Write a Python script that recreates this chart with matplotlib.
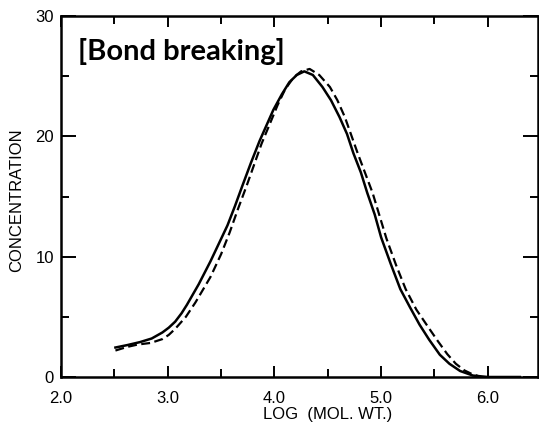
import numpy as np
import matplotlib
matplotlib.use("Agg")
import matplotlib.pyplot as plt
from matplotlib.ticker import MultipleLocator, FormatStrFormatter

# solid curve
log_mw_solid = [2.51, 2.62, 2.74, 2.85, 2.95, 3.01, 3.07, 3.13, 3.18, 3.29,
                3.40, 3.48, 3.56, 3.63, 3.70, 3.78, 3.86, 3.93, 3.99, 4.07,
                4.14, 4.21, 4.28, 4.36, 4.45, 4.53, 4.61, 4.68, 4.74, 4.81,
                4.87, 4.94, 5.00, 5.09, 5.18, 5.27, 5.36, 5.45, 5.55, 5.64,
                5.74, 5.86, 6.00, 6.30]
conc_solid = [2.45, 2.65, 2.9, 3.2, 3.7, 4.1, 4.6, 5.3, 6.0, 7.7,
              9.6, 11.1, 12.6, 14.2, 15.9, 17.8, 19.6, 21.0, 22.2, 23.5,
              24.5, 25.1, 25.4, 25.1, 24.1, 23.0, 21.6, 20.2, 18.6, 17.0,
              15.3, 13.5, 11.6, 9.4, 7.3, 5.8, 4.35, 3.1, 1.85, 1.1,
              0.5, 0.12, 0.0, 0.0]

# dashed curve
log_mw_dash = [2.51, 2.62, 2.72, 2.84, 2.95, 3.01, 3.07, 3.17, 3.26, 3.40,
               3.50, 3.58, 3.66, 3.74, 3.80, 3.88, 3.96, 4.03, 4.10, 4.18,
               4.25, 4.33, 4.42, 4.52, 4.59, 4.66, 4.78, 4.92, 5.05, 5.14,
               5.23, 5.33, 5.44, 5.53, 5.62, 5.70, 5.78, 5.85, 5.92]
conc_dash = [2.2, 2.5, 2.7, 2.83, 3.15, 3.5, 4.0, 5.0, 6.2, 8.3,
             10.2, 12.0, 14.0, 15.9, 17.4, 19.4, 21.1, 22.6, 23.9, 24.9,
             25.4, 25.6, 25.1, 24.1, 23.0, 21.6, 18.6, 15.3, 11.5, 9.3,
             7.3, 5.6, 4.16, 3.0, 1.9, 1.1, 0.55, 0.25, 0.05]

plt.rcParams['font.family'] = ['Liberation Sans', 'DejaVu Sans']

fig = plt.figure(figsize=(5.39, 4.24), dpi=100)
ax = fig.add_axes([61/539, 47/424, 477/539, 361/424])

ax.plot(log_mw_solid, conc_solid, color='black', lw=1.8, solid_joinstyle='round')
ax.plot(log_mw_dash, conc_dash, color='black', lw=1.6, dashes=(4, 2))

ax.set_xlim(2.0, 6.47)
ax.set_ylim(0, 30)

ax.xaxis.set_major_locator(MultipleLocator(1.0))
ax.xaxis.set_minor_locator(MultipleLocator(0.5))
ax.xaxis.set_major_formatter(FormatStrFormatter('%.1f'))
ax.yaxis.set_major_locator(MultipleLocator(10))
ax.yaxis.set_minor_locator(MultipleLocator(5))

for s in ax.spines.values():
    s.set_linewidth(1.8)

ax.tick_params(which='both', direction='in', top=True, right=True,
               width=1.4, labelsize=12, colors='black')
ax.tick_params(axis='x', which='major', length=8, pad=10)
ax.tick_params(axis='x', which='minor', length=6)
ax.tick_params(axis='y', which='major', length=11, pad=5)
ax.tick_params(axis='y', which='minor', length=6)

ax.set_xlabel('LOG  (MOL. WT.)', fontsize=12, va='center')
ax.xaxis.set_label_coords(0.558, -0.1025)
ax.set_ylabel('CONCENTRATION', fontsize=12, va='center')
ax.yaxis.set_label_coords(-0.094, 0.49)

ax.text(2.16, 26.35, '[Bond breaking]', fontsize=21, fontweight='bold',
        family=['Lato', 'DejaVu Sans'], va='baseline', ha='left')

fig.savefig('out.png', dpi=100)
